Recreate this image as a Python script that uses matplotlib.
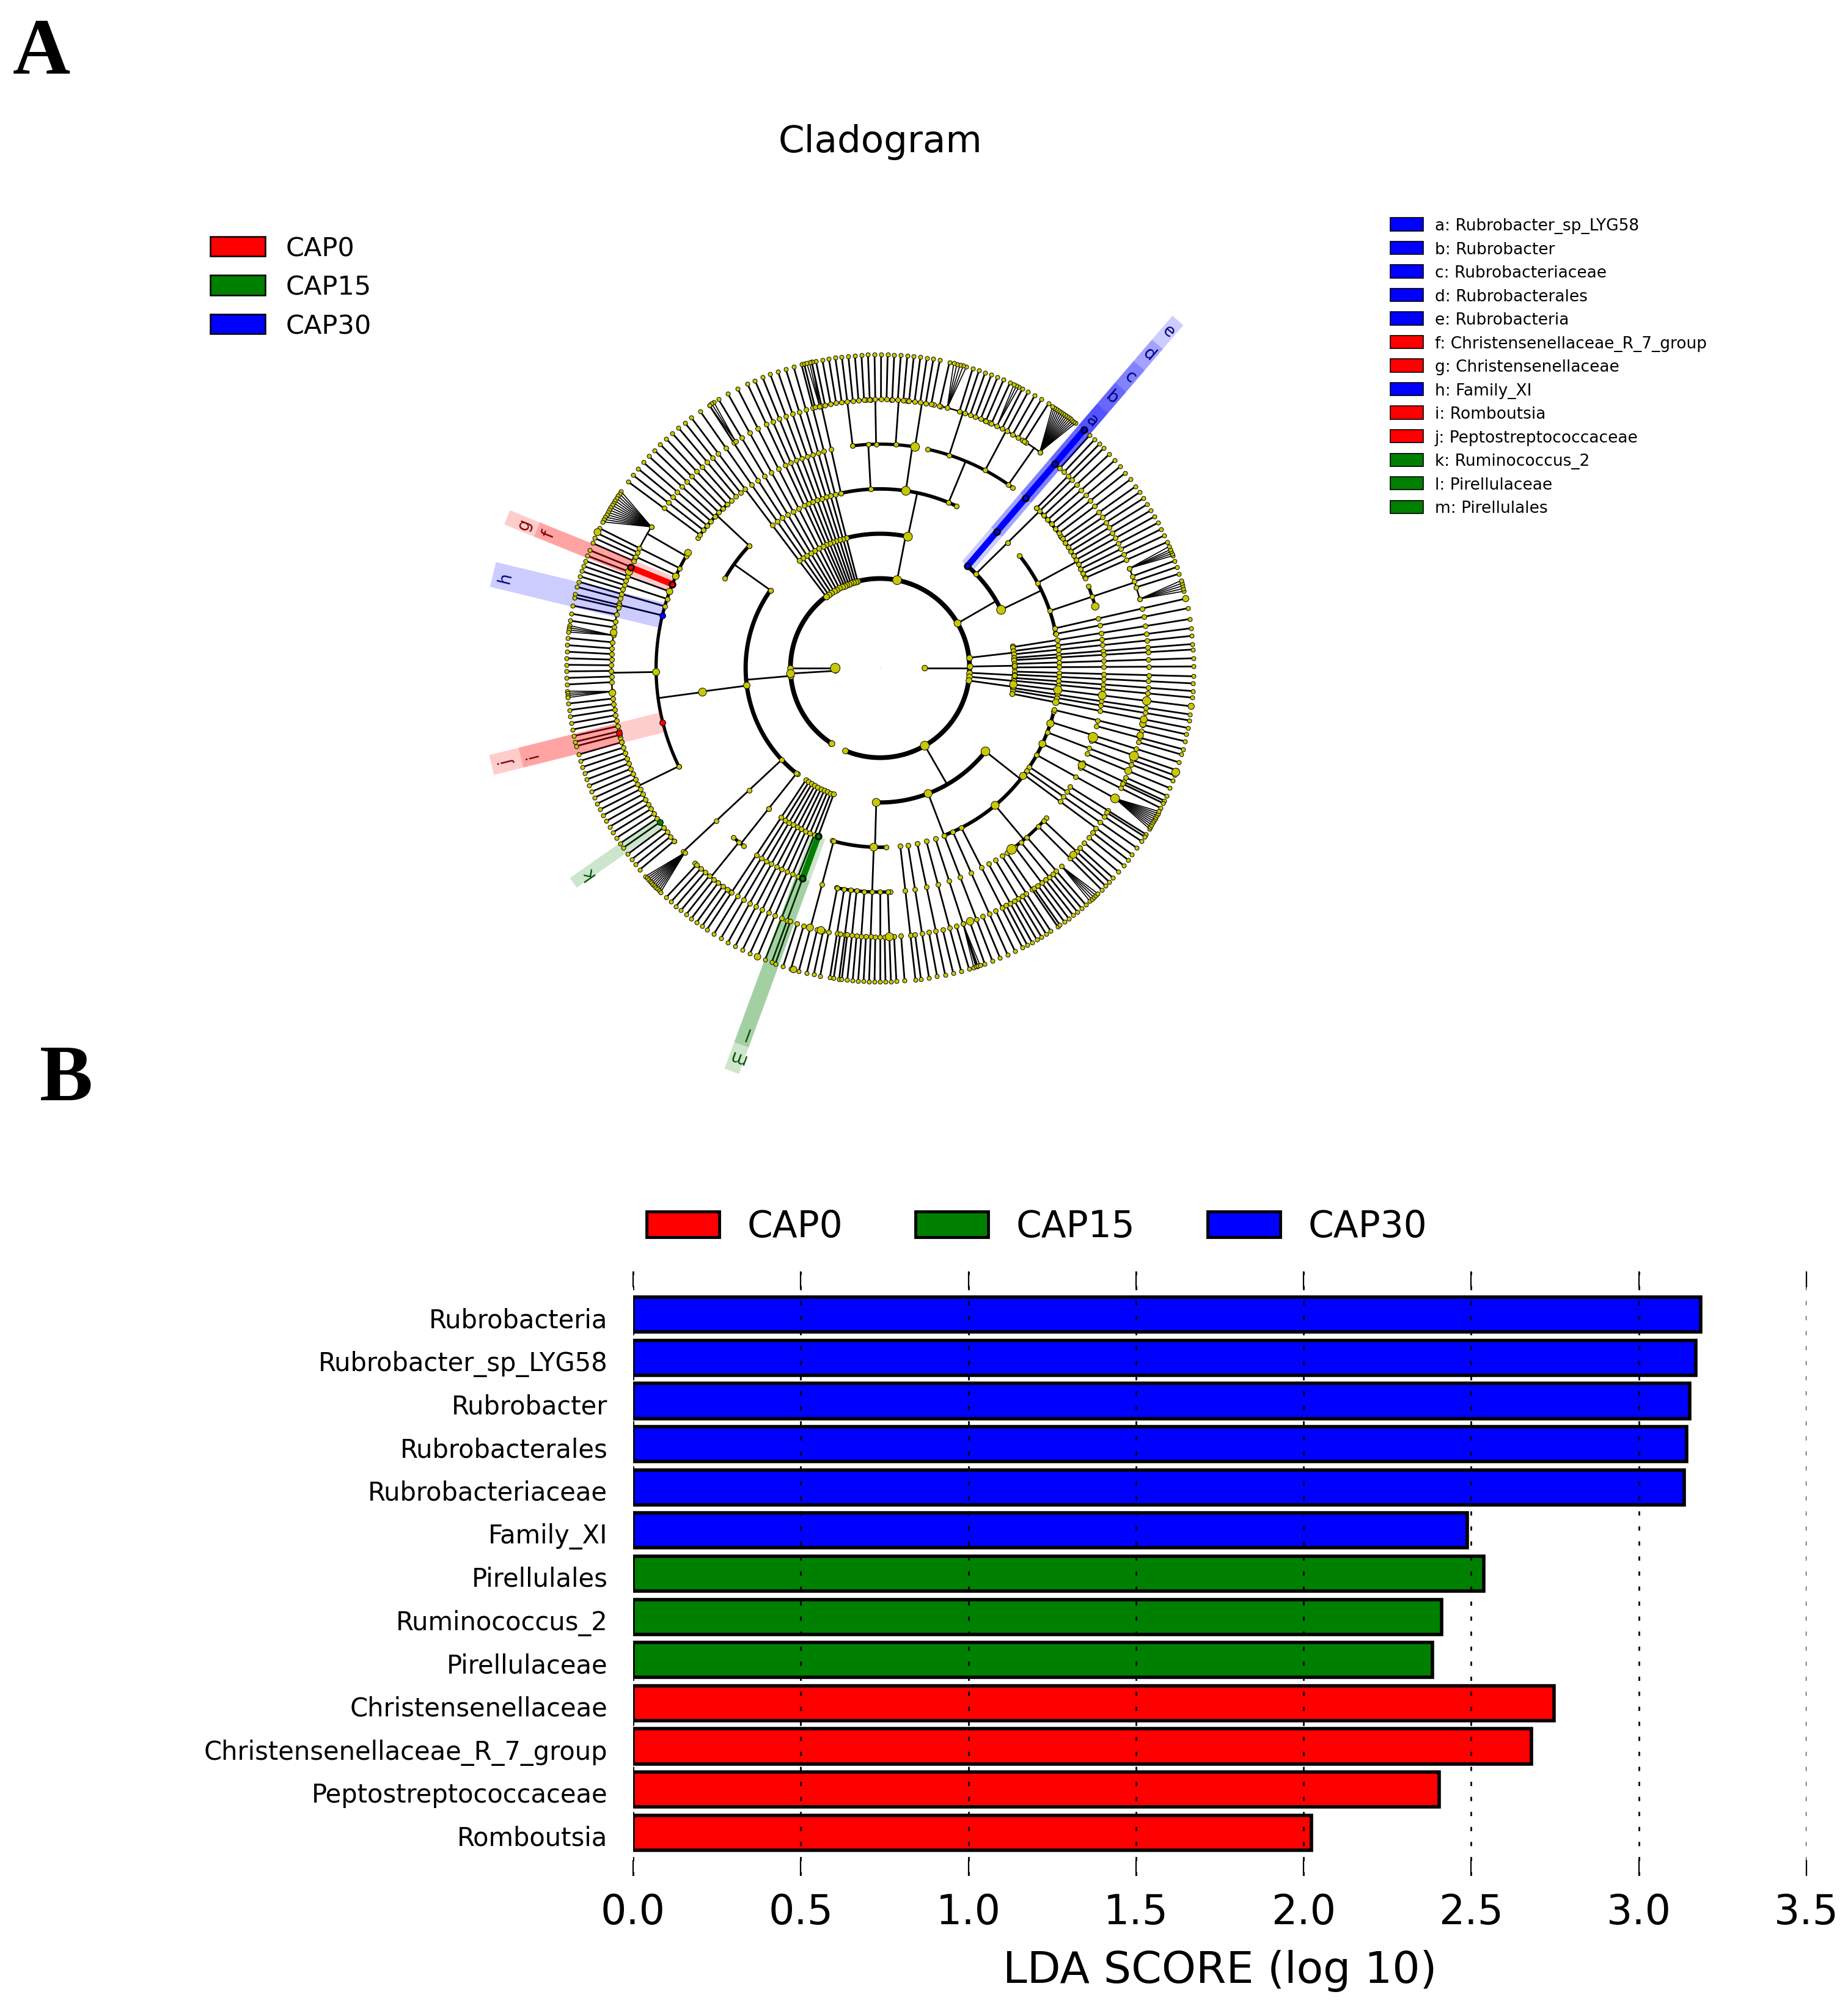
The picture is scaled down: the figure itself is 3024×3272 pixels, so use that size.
import numpy as np
import matplotlib
matplotlib.use('Agg')
import matplotlib.pyplot as plt
from matplotlib.patches import Patch
from matplotlib.transforms import ScaledTranslation

W, H = 3024, 3273
RED, GREEN, BLUE = '#ff0000', '#008000', '#0000ff'
NODE = '#c8c800'

# ---- panel B values
taxa = ['Rubrobacteria', 'Rubrobacter_sp_LYG58', 'Rubrobacter', 'Rubrobacterales',
        'Rubrobacteriaceae', 'Family_XI', 'Pirellulales', 'Ruminococcus_2', 'Pirellulaceae',
        'Christensenellaceae', 'Christensenellaceae_R_7_group', 'Peptostreptococcaceae', 'Romboutsia']
lda = [3.185, 3.17, 3.151, 3.143, 3.136, 2.488, 2.537, 2.412, 2.385, 2.747, 2.679, 2.404, 2.024]
groups = ['CAP30'] * 6 + ['CAP15'] * 3 + ['CAP0'] * 4
group_names = ['CAP0', 'CAP15', 'CAP30']
group_colors = [RED, GREEN, BLUE]

# ---- panel A legend
key_labels = ['a: Rubrobacter_sp_LYG58', 'b: Rubrobacter', 'c: Rubrobacteriaceae', 'd: Rubrobacterales',
              'e: Rubrobacteria', 'f: Christensenellaceae_R_7_group', 'g: Christensenellaceae', 'h: Family_XI',
              'i: Romboutsia', 'j: Peptostreptococcaceae', 'k: Ruminococcus_2', 'l: Pirellulaceae', 'm: Pirellulales']
key_colors = [BLUE] * 5 + [RED] * 2 + [BLUE] + [RED] * 2 + [GREEN] * 3

# ---- cladogram, angles in degrees, rings 1..7 from the centre
# arcs per ring: (start, end, angle of the stem coming from the ring below)
arcs_2 = [(-113, 127, 0), (127, 237, 183.5)]
arcs_3 = [(4, 9.5, 6.6), (25.7, 49.4, 30), (78, 106, 79), (144.6, 232, 185), (268.4, 321.7, 300)]
arcs_4 = [(11.3, 39, 25.7), (64.8, 102.6, 78), (136.9, 150, 144.6), (254.5, 272, 268.4), (291, 346, 321.7)]
arcs_5 = [(16, 21.4, 18.6), (24, 36, 28.4), (36.4, 45.6, 44.5), (53.6, 77.7, 67.5), (81, 97, 81.7),
          (133, 144.4, 136.9), (149.5, 206, 187.7), (229, 232.5, 231.6), (258.8, 272.6, 268), (306, 318, 310)]
arcs_6 = [(14.9, 21.8, 18.6), (53.5, 57, 55), (58, 66, 62), (67, 77, 72), (78.5, 84, 81), (84.5, 87.5, 86),
          (87.5, 92, 91), (93, 103, 97), (148.3, 156, 150), (166, 195, 181), (196, 220, 206), (226.5, 236, 231)]
arcs = {2: arcs_2, 3: arcs_3, 4: arcs_4, 5: arcs_5, 6: arcs_6}
arc_widths = {2: 5.6, 3: 5.0, 4: 4.2, 5: 3.8, 6: 1.8}

# straight lines that start on one ring and run out to the leaves
runs_2 = [104.5, 106, 107.5, 109, 110.5, 112, 113.5, 115, 117, 119, 121, 123, 125, 127]
runs_3 = [9, 7.3, 5.9, 4.4, 3.4, 1.8, 0.3, -1.5, -2.8, -4.2, -5.4, -7, -8.5, -9.6, -11,
          49.4, 291, 236.5, 238, 239.5, 241, 242.5, 244, 245.5, 247, 248.5, 249.8]
runs_4 = [11, 12.8, 102.6, 255, 276.5, 279, 282, 285, 288, 294, 297, 346.5, 342.5, 339, 335, 326.5, 325, 323.5]
runs_5 = [23.7, 25, 26.3, 27.6, 28.9, 30.2, 31.5, 32.8, 34.1, 35.4, 37, 38.5, 40, 41.5, 43, 44.5, 45.6,
          128.5, 130, 131.5, 133, 134.5, 136, 137.5, 139, 140.5, 142, 143.5,
          153.5, 155.5, 157.9, 160, 162, 164, 166.4, 259, 260.8, 262.5, 264, 266, 268, 270, 272,
          299, 301, 303, 304.5, 307, 309, 311, 315, 317, 328, 333.5, 337.5, 341, 345]
runs_6 = [17.5, 18.8, 20, 46.8, 48, 57.5, 59, 60.4, 61.8, 63, 65.5, 66.8, 68, 69.2, 70.4, 71.6, 72.8, 77.2,
          79, 80.2, 81.4, 82.6, 83.8, 85, 86.2, 87.4, 88.6, 89.8, 91, 92.2, 93.4, 94.6, 95.8, 97, 98.2, 99.4,
          100.6, 101.8, 104, 154.5, 156.5, 159, 161, 163, 165, 167, 168.5, 170, 171.3, 174.5, 175.8, 177,
          178.2, 179.4, 180.6, 181.8, 183, 186.5, 187.7, 188.9, 190.1, 191.3, 192.5, 193.6, 194.4,
          196, 197.2, 198.4, 199.6, 200.8, 202, 203.2, 204.4, 205.6, 206.8, 208, 209.2, 210.4, 211.6, 212.8,
          214, 215, 216.4, 217.6, 218.8, 220, 227, 228.2, 229.4, 230.6, 231.8, 233, 234.2, 235.4,
          250.5, 252, 253.5, 256.5, 257.8, 261.5, 263, 265, 267, 269, 271, 273, 274.5, 277.5, 280.5, 283.5,
          286.5, 289.5, 292.5, 295.5, 298, 300, 302, 305, 306, 308, 310, 316, 318, 319.5, 321, 322.3,
          327.5, 334.5, 336, 340, 344, 347.8]
runs = {2: runs_2, 3: runs_3, 4: runs_4, 5: runs_5, 6: runs_6}

# single stems between two rings: (from ring, to ring, angle)
stems = [(1, 2, 180), (2, 3, 1), (2, 3, -3), (2, 3, -5.5), (2, 3, -8), (3, 4, 187.5), (3, 4, 44.5), (3, 6, 223),
         (3, 4, 231.6), (4, 5, 93), (4, 6, 331)]

# fans: one node on ring 6 spreading into a tight bunch of leaves
fan_origins = [14.9, 21.8, 53.5, 64.2, 75.5, 103, 122.5, 148.3, 173, 185, 223.4, 288, 312.5, 331]
fan_leaves = [[14.2, 14.7, 15.2, 15.7, 16.2],
              [21, 21.4, 21.8, 22.2, 22.8],
              [51.4, 51.8, 52.2, 52.6, 53, 53.4, 53.8, 54.2, 54.6, 55, 55.4, 55.8, 56.2, 56.6],
              [63.7, 64.2, 64.7],
              [74, 74.6, 75.2, 75.8, 76.4],
              [102.5, 103, 103.5],
              [122, 122.5, 123],
              [145.7, 146.2, 146.7, 147.2, 147.7, 148.2, 148.7, 149.2, 149.7, 150.2, 150.7, 151.2, 151.7, 152.2],
              [172.2, 172.6, 173, 173.4],
              [184.2, 184.6, 185, 185.4],
              [221.6, 222, 222.4, 222.8, 223.2, 223.6, 224, 224.4, 224.8, 225.2, 225.6],
              [287.4, 287.8, 288.2, 288.6],
              [312, 312.5, 313, 313.5, 314],
              [329.2, 329.6, 330, 330.4, 330.8, 331.2, 331.6, 332, 332.4, 332.8]]

# larger nodes
big_rings = [1, 1, 2, 2, 2, 2, 2, 3, 3, 3, 3, 3, 3, 3, 4, 4, 4, 4, 4, 4, 4, 4, 4,
             5, 5, 5, 5, 5, 5, 5, 5, 5, 5,
             6, 6, 6, 6, 6, 6, 6, 6, 6, 6, 6, 6, 6, 6, 6, 7, 7, 7, 7, 7, 7]
big_angles = [0, 180, 79, 30, 183.5, 300, 237.5, 78, 25.7, 187.4, 268.4, 321.7, 291, 353, 81.7, 310, 268, 323,
              349, 353, 342, 335, 187.7, 81, 306, 342, 334.3, 353, 16, 160, 155.8, 149, 181,
              345.5, 331, 316, 348, 340.9, 353, 349, 337.5, 272, 257.3, 254.9, 289.6, 159, 172.4, 185.3,
              340.6, 353, 12.8, 154.3, 247, 254]
big_sizes = [45, 130, 110, 70, 90, 110, 50, 110, 110, 60, 90, 110, 90, 80, 110, 90, 85, 70,
             60, 95, 75, 70, 90, 110, 130, 130, 75, 90, 80, 60, 60, 65, 70,
             60, 110, 70, 60, 120, 100, 70, 70, 90, 80, 70, 80, 75, 65, 65,
             90, 55, 55, 70, 60, 60]

# biomarkers: letter, ring, angle, colour, bar width (pt), bar end, label radius
mark_letters = ['a', 'b', 'c', 'd', 'e', 'f', 'g', 'h', 'i', 'j', 'k', 'l', 'm']
mark_rings = [7, 6, 5, 4, 3, 6, 5, 5, 6, 5, 6, 5, 4]
mark_angles = [49.4, 49.4, 49.4, 49.4, 49.4, 158, 158, 166.4, 194, 194, 215, 249.8, 249.8]
mark_colors = [BLUE] * 5 + [RED] * 2 + [BLUE] + [RED] * 2 + [GREEN] * 3
mark_text = ['#00007a'] * 5 + ['#7a0000'] * 2 + ['#00007a'] + ['#7a0000'] * 2 + ['#005000'] * 3
mark_widths = [17, 17, 17, 17, 17, 18, 18, 30, 24, 24, 14, 18, 18]
mark_ends = [1.09, 1.18, 1.27, 1.36, 1.46, 1.18, 1.283, 1.27, 1.18, 1.277, 1.194, 1.28, 1.37]
mark_label_r = [1.04, 1.137, 1.226, 1.32, 1.415, 1.14, 1.225, 1.23, 1.142, 1.227, 1.137, 1.236, 1.32]
mark_edges = [2, 2, 2, 2, 2, 2, 2, 0.8, 0.8, 0.8, 0.8, 2, 2]
thick_links = [(3, 7, 49.4, BLUE), (5, 6, 158, RED), (4, 5, 249.8, GREEN)]

R_PX = 513
CX, CY = 1440, 1094
RMAX = 1.5
fig = plt.figure(figsize=(W / 100, H / 100), dpi=100, facecolor='white')


def ring(k):
    return k / 7


def rad(a):
    return np.deg2rad(a)


side = 2 * RMAX * R_PX
ax = fig.add_axes([(CX - side / 2) / W, 1 - (CY + side / 2) / H, side / W, side / H], projection='polar')
ax.set_ylim(0, RMAX)
ax.axis('off')

nodes = {k: [] for k in range(1, 8)}
LW = 2.0

# arcs and their stems
for k, ring_arcs in arcs.items():
    for a0, a1, stem in ring_arcs:
        th = rad(np.linspace(a0, a1, 200))
        ax.plot(th, np.full(th.size, ring(k)), color='k', lw=arc_widths[k], solid_capstyle='butt', zorder=2)
        ax.plot([rad(stem)] * 2, [ring(k - 1), ring(k)], color='k', lw=LW, zorder=1)
        nodes[k] += [a0, a1]
        nodes[k - 1].append(stem)

# straight runs out to the leaves
for k, angles in runs.items():
    for a in angles:
        ax.plot([rad(a)] * 2, [ring(k), 1], color='k', lw=LW, zorder=1)
        for j in range(k, 8):
            nodes[j].append(a)

for r0, r1, a in stems:
    ax.plot([rad(a)] * 2, [ring(r0), ring(r1)], color='k', lw=LW, zorder=1)
    for j in range(r0, r1 + 1):
        nodes[j].append(a)

# fans
for origin, leaves in zip(fan_origins, fan_leaves):
    for a in leaves:
        ax.plot([rad(origin), rad(a)], [ring(6), 1], color='k', lw=1.2, zorder=1)
    nodes[6].append(origin)
    nodes[7] += leaves

node_sizes = {1: 32, 2: 48, 3: 36, 4: 34, 5: 32, 6: 32, 7: 25}
for k, angles in nodes.items():
    ax.scatter(rad(np.array(angles)), np.full(len(angles), ring(k)), s=node_sizes[k], c=NODE,
               edgecolors='k', linewidths=0.7, zorder=5)
ax.scatter(rad(np.array(big_angles)), np.array(big_rings) / 7, s=big_sizes, c=NODE, edgecolors='k',
           linewidths=0.7, zorder=5)
ax.scatter([0], [0], s=1, c=NODE, linewidths=0, zorder=5)

# highlighted clades
for r0, r1, a, col in thick_links:
    ax.plot([rad(a)] * 2, [ring(r0), ring(r1)], color=col, lw=7.4, solid_capstyle='butt', zorder=6)

for let, k, a, col, tc, w, end, lr, edge in zip(mark_letters, mark_rings, mark_angles, mark_colors, mark_text,
                                                mark_widths, mark_ends, mark_label_r, mark_edges):
    ax.plot([rad(a)] * 2, [ring(k), end], color=col, lw=w, alpha=0.2, solid_capstyle='butt', zorder=3)
    ax.scatter([rad(a)], [ring(k)], s=48, c=col, edgecolors='k', linewidths=edge, zorder=7)
    ax.text(rad(a), lr, let, color=tc, fontsize=20, ha='center', va='center',
            rotation=a - 90, rotation_mode='anchor', clip_on=False, zorder=8)

# panel letters and title
fig.text(10 * 2.087 / W, 1 - 120 / H, 'A', family='Liberation Serif', weight='bold', fontsize=94, va='baseline')
fig.text(31 * 2.087 / W, 1 - 1800 / H, 'B', family='Liberation Serif', weight='bold', fontsize=94, va='baseline')
fig.text(1441 / W, 1 - 233 / H, 'Cladogram', fontsize=44, ha='center', va='center')

# legends of panel A
handles = [Patch(facecolor=c, edgecolor='k', linewidth=1.8) for c in group_colors]
fig.legend(handles, group_names, loc='upper left', bbox_to_anchor=(344 / W, 1 - 386 / H), frameon=False,
           fontsize=31, labelspacing=0.5, handlelength=2.09, handleheight=0.78, handletextpad=0.78,
           borderpad=0, borderaxespad=0)
handles = [Patch(facecolor=c, edgecolor='k', linewidth=1.2) for c in key_colors]
fig.legend(handles, key_labels, loc='upper left', bbox_to_anchor=(2275 / W, 1 - 357 / H), frameon=False,
           fontsize=19, labelspacing=0.475, handlelength=2.05, handleheight=0.87, handletextpad=0.71,
           borderpad=0, borderaxespad=0)

# ---- panel B
top, bottom, left, right = 2081, 3070, 1036, 2956
ax2 = fig.add_axes([left / W, 1 - bottom / H, (right - left) / W, (bottom - top) / H])
pos = np.arange(len(taxa))
cols = [group_colors[group_names.index(g)] for g in groups]
ax2.barh(pos, lda, height=0.81, color=cols, edgecolor='k', linewidth=4)
ax2.set_ylim(13, -1)
ax2.set_xlim(0, 3.5)
ax2.set_yticks(pos)
ax2.set_yticklabels(taxa, fontsize=30)
ax2.tick_params(axis='y', length=0, pad=30)
for lbl in ax2.get_yticklabels():
    lbl.set_transform(lbl.get_transform() + ScaledTranslation(0, -4 / 100, fig.dpi_scale_trans))
ax2.set_xticks([0, 0.5, 1, 1.5, 2, 2.5, 3, 3.5])
ax2.set_xticklabels(['0.0', '0.5', '1.0', '1.5', '2.0', '2.5', '3.0', '3.5'], fontsize=48)
ax2.tick_params(axis='x', direction='in', top=True, bottom=True, length=19, width=1.6, pad=19)
ax2.set_xlabel('LDA SCORE (log 10)', fontsize=51.3, labelpad=20)
ax2.grid(axis='x', linestyle=(0, (2.5, 6.35)), color='k', linewidth=2)
ax2.set_axisbelow(False)
for s in ax2.spines.values():
    s.set_visible(False)

handles = [Patch(facecolor=c, edgecolor='k', linewidth=3.5) for c in group_colors]
fig.legend(handles, group_names, loc='center left', bbox_to_anchor=(1058 / W, 1 - 2008 / H), ncol=3, frameon=False,
           fontsize=43, handlelength=2.0, handleheight=0.7, handletextpad=0.76, columnspacing=1.98,
           borderpad=0, borderaxespad=0)

fig.savefig('out.png', dpi=100, facecolor='white')
